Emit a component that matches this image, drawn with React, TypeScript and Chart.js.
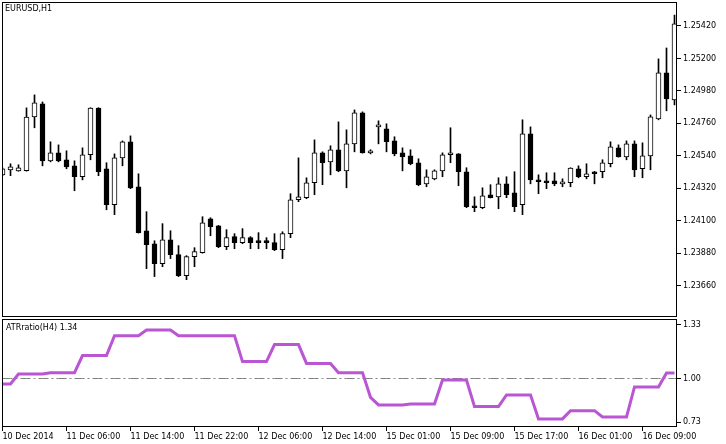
import React, { useEffect, useRef } from 'react';
import { Chart, registerables } from 'chart.js';

Chart.register(...registerables);

const SYMBOL_TITLE = 'EURUSD,H1';
const INDICATOR_TITLE = 'ATRratio(H4) 1.34';

const OPEN = [
  1.24411, 1.24445, 1.24438, 1.2444, 1.24804, 1.24892, 1.24506, 1.2456, 1.24513, 1.24472,
  1.24398, 1.24547, 1.24863, 1.24452, 1.24208, 1.24526, 1.24635, 1.2433, 1.24032, 1.23944,
  1.23809, 1.23971, 1.2387, 1.23728, 1.23856, 1.23883, 1.24113, 1.24066, 1.23924, 1.23992,
  1.23951, 1.23985, 1.23964, 1.23964, 1.23951, 1.23904, 1.24012, 1.24242, 1.24256, 1.24357,
  1.2456, 1.24499, 1.24581, 1.24438, 1.24621, 1.24831, 1.2456, 1.24736, 1.24723, 1.24641,
  1.2456, 1.2454, 1.24493, 1.2435, 1.24384, 1.24438, 1.24547, 1.24553, 1.24432, 1.24201,
  1.24188, 1.24276, 1.24262, 1.2435, 1.24289, 1.24208, 1.24689, 1.24377, 1.24371, 1.24371,
  1.2435, 1.24357, 1.24452, 1.24398, 1.24432, 1.24432, 1.24486, 1.24594, 1.24533, 1.24621,
  1.24452, 1.2454, 1.2479, 1.25102, 1.24919,
];
const HIGH = [
  1.24459, 1.24486, 1.24479, 1.24865, 1.24953, 1.24905, 1.24635, 1.24614, 1.24574, 1.24506,
  1.24594, 1.24866, 1.24866, 1.24493, 1.24553, 1.24641, 1.24675, 1.24418, 1.24161, 1.23964,
  1.2408, 1.24032, 1.23931, 1.23863, 1.23917, 1.24127, 1.2412, 1.24068, 1.24039, 1.24012,
  1.24046, 1.23992, 1.24019, 1.23985, 1.24012, 1.24025, 1.24283, 1.24526, 1.24391, 1.24648,
  1.24567, 1.24608, 1.2477, 1.24716, 1.24851, 1.24838, 1.24581, 1.24777, 1.24757, 1.24669,
  1.24594, 1.24581, 1.2452, 1.24445, 1.24445, 1.2456, 1.2473, 1.24555, 1.24459, 1.24262,
  1.24323, 1.24344, 1.24391, 1.24398, 1.24432, 1.24784, 1.24736, 1.24411, 1.24425, 1.24425,
  1.24384, 1.24459, 1.24472, 1.24486, 1.24434, 1.24513, 1.24635, 1.24614, 1.24641, 1.24641,
  1.24628, 1.24817, 1.25197, 1.25271, 1.25494,
];
const LOW = [
  1.24405, 1.24405, 1.24435, 1.24436, 1.2473, 1.24472, 1.24499, 1.24499, 1.24452, 1.24303,
  1.24377, 1.24513, 1.24405, 1.24174, 1.24141, 1.24472, 1.24317, 1.24016, 1.23775, 1.23721,
  1.23788, 1.23843, 1.23721, 1.237, 1.23788, 1.2388, 1.23998, 1.23917, 1.23904, 1.2391,
  1.23944, 1.2391, 1.2391, 1.2391, 1.23897, 1.23843, 1.23985, 1.24229, 1.24249, 1.24276,
  1.24344, 1.24411, 1.24432, 1.24323, 1.24567, 1.24558, 1.24553, 1.24621, 1.24567, 1.2454,
  1.24438, 1.24479, 1.24337, 1.2433, 1.24377, 1.24398, 1.24493, 1.24337, 1.24188, 1.24161,
  1.24181, 1.24254, 1.24181, 1.24256, 1.24161, 1.24141, 1.2435, 1.24283, 1.24317, 1.24337,
  1.2433, 1.2433, 1.24391, 1.24384, 1.2435, 1.24391, 1.24465, 1.24531, 1.24513, 1.24398,
  1.24391, 1.24445, 1.24784, 1.24845, 1.24885,
];
const CLOSE = [
  1.24452, 1.24465, 1.24459, 1.24802, 1.24899, 1.24506, 1.2456, 1.24506, 1.24465, 1.24398,
  1.24547, 1.24863, 1.24432, 1.24208, 1.24526, 1.24635, 1.24323, 1.24019, 1.23937, 1.23809,
  1.23971, 1.2387, 1.23728, 1.23856, 1.2389, 1.24086, 1.24059, 1.23924, 1.23985, 1.23951,
  1.23985, 1.23951, 1.23951, 1.23951, 1.23904, 1.24012, 1.24242, 1.24262, 1.24357, 1.2456,
  1.24493, 1.24581, 1.24438, 1.24621, 1.24831, 1.2456, 1.24574, 1.2475, 1.24635, 1.24553,
  1.24533, 1.24486, 1.24344, 1.24398, 1.24438, 1.24547, 1.2456, 1.24432, 1.24195, 1.24188,
  1.24269, 1.24256, 1.2435, 1.24276, 1.24195, 1.24689, 1.24377, 1.24364, 1.24357, 1.2435,
  1.24354, 1.24457, 1.24398, 1.24418, 1.24418, 1.24493, 1.24601, 1.24533, 1.24621, 1.24445,
  1.2454, 1.24804, 1.25102, 1.24926, 1.25434,
];
const ATR_RATIO = [
  0.966, 0.966, 1.028, 1.028, 1.028, 1.028, 1.036, 1.036, 1.036, 1.036,
  1.141, 1.141, 1.141, 1.141, 1.264, 1.264, 1.264, 1.264, 1.299, 1.299,
  1.299, 1.299, 1.264, 1.264, 1.264, 1.264, 1.264, 1.264, 1.264, 1.264,
  1.104, 1.104, 1.104, 1.104, 1.209, 1.209, 1.209, 1.209, 1.093, 1.093,
  1.093, 1.093, 1.036, 1.036, 1.036, 1.036, 0.884, 0.837, 0.837, 0.837,
  0.837, 0.843, 0.843, 0.843, 0.843, 0.991, 0.991, 0.991, 0.991, 0.827,
  0.827, 0.827, 0.827, 0.899, 0.899, 0.899, 0.899, 0.751, 0.751, 0.751,
  0.751, 0.802, 0.802, 0.802, 0.802, 0.763, 0.763, 0.763, 0.763, 0.948,
  0.948, 0.948, 0.948, 1.034, 1.034,
];
const LEVEL = 1.0;
const PRICE_TICKS = [1.2366, 1.2388, 1.241, 1.2432, 1.2454, 1.2476, 1.2498, 1.252, 1.2542];
const ATR_TICKS = [0.73, 1.0, 1.33];
const TIME_LABELS = [
  '10 Dec 2014', '11 Dec 06:00', '11 Dec 14:00', '11 Dec 22:00', '12 Dec 06:00', '12 Dec 14:00',
  '15 Dec 01:00', '15 Dec 09:00', '15 Dec 17:00', '16 Dec 01:00', '16 Dec 09:00',
];
const TIME_LABEL_STEP = 8;

const X_MIN = -0.0625;
const X_MAX = 84.3125;
const PRICE_MIN = 1.234471;
const PRICE_MAX = 1.255827;
const ATR_MIN = 0.7012;
const ATR_MAX = 1.3666;

const FONT = { family: 'DejaVu Sans', size: 8 };

const framePlugin = {
  id: 'frame',
  afterDatasetsDraw(chart: any) {
    const { ctx, chartArea: a } = chart;
    ctx.save();
    ctx.strokeStyle = '#000';
    ctx.lineWidth = 1;
    ctx.strokeRect(a.left + 0.5, a.top + 0.5, a.right - a.left - 1, a.bottom - a.top - 1);
    ctx.restore();
  },
};

const fixWidth = (s: any) => {
  s.width = 49;
  s.paddingTop = 0;
  s.paddingBottom = 0;
  s.paddingLeft = 0;
  s.paddingRight = 0;
};
const fixHeight = (s: any) => {
  s.height = 17;
  s.paddingTop = 0;
  s.paddingBottom = 0;
  s.paddingLeft = 0;
  s.paddingRight = 0;
};

export default function App() {
  const topRef = useRef<HTMLCanvasElement>(null);
  const botRef = useRef<HTMLCanvasElement>(null);

  useEffect(() => {
    Chart.defaults.font.family = FONT.family;
    Chart.defaults.font.size = FONT.size;
    Chart.defaults.color = '#000';
    const idx = OPEN.map((_, i) => i);

    const top = new Chart(topRef.current as HTMLCanvasElement, {
      type: 'bar',
      data: {
        datasets: [
          {
            label: 'body',
            data: idx.map((i) => ({ x: i, y: [OPEN[i], CLOSE[i]] })) as any,
            backgroundColor: idx.map((i) => (CLOSE[i] >= OPEN[i] ? '#ffffff' : '#000000')),
            borderColor: '#000',
            borderWidth: 1,
            borderSkipped: false,
            barThickness: 5,
            grouped: false,
            minBarLength: 2,
            order: 1,
          } as any,
          {
            label: 'wick',
            data: idx.map((i) => ({ x: i, y: [LOW[i], HIGH[i]] })) as any,
            backgroundColor: '#000',
            borderWidth: 0,
            barThickness: 1,
            grouped: false,
            order: 2,
          } as any,
        ],
      },
      options: {
        animation: false,
        responsive: false,
        events: [],
        layout: { padding: { left: 2, top: 2, right: 0, bottom: 1 } },
        plugins: { legend: { display: false }, tooltip: { enabled: false } },
        scales: {
          x: { type: 'linear', display: false, min: X_MIN, max: X_MAX, offset: false, grid: { offset: false } },
          y: {
            type: 'linear',
            position: 'right',
            min: PRICE_MIN,
            max: PRICE_MAX,
            beginAtZero: false,
            afterBuildTicks: (s: any) => {
              s.ticks = PRICE_TICKS.map((v) => ({ value: v }));
            },
            afterFit: fixWidth,
            ticks: { autoSkip: false, padding: 2, callback: (v: any) => Number(v).toFixed(5), font: FONT, color: '#000' },
            grid: { drawOnChartArea: false, drawTicks: true, tickLength: 4, color: '#000' },
            border: { display: false },
          },
        },
      } as any,
      plugins: [framePlugin],
    });

    const bot = new Chart(botRef.current as HTMLCanvasElement, {
      type: 'line',
      data: {
        datasets: [
          {
            label: 'ATRratio',
            data: idx.map((i) => ({ x: i, y: ATR_RATIO[i] })),
            borderColor: '#BA55D3',
            borderWidth: 3,
            pointRadius: 0,
            tension: 0,
            order: 1,
          },
          {
            label: 'level',
            data: [...idx.map((i) => ({ x: i, y: LEVEL })), { x: X_MAX, y: LEVEL }],
            borderColor: '#808080',
            borderWidth: 1,
            borderDash: [10, 3, 2, 3],
            pointRadius: 0,
            order: 2,
          },
        ],
      },
      options: {
        animation: false,
        responsive: false,
        events: [],
        layout: { padding: { left: 2, top: 1, right: 0, bottom: 0 } },
        plugins: { legend: { display: false }, tooltip: { enabled: false } },
        scales: {
          x: {
            type: 'linear',
            min: X_MIN,
            max: X_MAX,
            offset: false,
            afterBuildTicks: (s: any) => {
              s.ticks = TIME_LABELS.map((_, i) => ({ value: i * TIME_LABEL_STEP }));
            },
            afterFit: fixHeight,
            ticks: {
              autoSkip: false,
              maxRotation: 0,
              minRotation: 0,
              align: 'start',
              padding: 1,
              font: FONT,
              color: '#000',
              callback: (_v: any, i: number) => TIME_LABELS[i],
            },
            grid: { drawOnChartArea: false, drawTicks: true, tickLength: 4, color: '#000' },
            border: { display: false },
          },
          y: {
            type: 'linear',
            position: 'right',
            min: ATR_MIN,
            max: ATR_MAX,
            afterBuildTicks: (s: any) => {
              s.ticks = ATR_TICKS.map((v) => ({ value: v }));
            },
            afterFit: fixWidth,
            ticks: { autoSkip: false, padding: 2, callback: (v: any) => Number(v).toFixed(2), font: FONT, color: '#000' },
            grid: { drawOnChartArea: false, drawTicks: true, tickLength: 4, color: '#000' },
            border: { display: false },
          },
        },
      } as any,
      plugins: [framePlugin],
    });

    return () => {
      top.destroy();
      bot.destroy();
    };
  }, []);

  const textStyle: React.CSSProperties = {
    position: 'absolute',
    fontFamily: 'DejaVu Sans',
    fontSize: 8,
    lineHeight: '10px',
    color: '#000',
    whiteSpace: 'nowrap',
  };

  return (
    <div style={{ position: 'fixed', left: 0, top: 0, width: 726, height: 444, background: '#fff' }}>
      <canvas ref={topRef} width={726} height={318} style={{ position: 'absolute', left: 0, top: 0, width: 726, height: 318 }} />
      <canvas ref={botRef} width={726} height={126} style={{ position: 'absolute', left: 0, top: 318, width: 726, height: 126 }} />
      <div style={{ ...textStyle, left: 5, top: 4 }}>{SYMBOL_TITLE}</div>
      <div style={{ ...textStyle, left: 6, top: 323 }}>{INDICATOR_TITLE}</div>
    </div>
  );
}
